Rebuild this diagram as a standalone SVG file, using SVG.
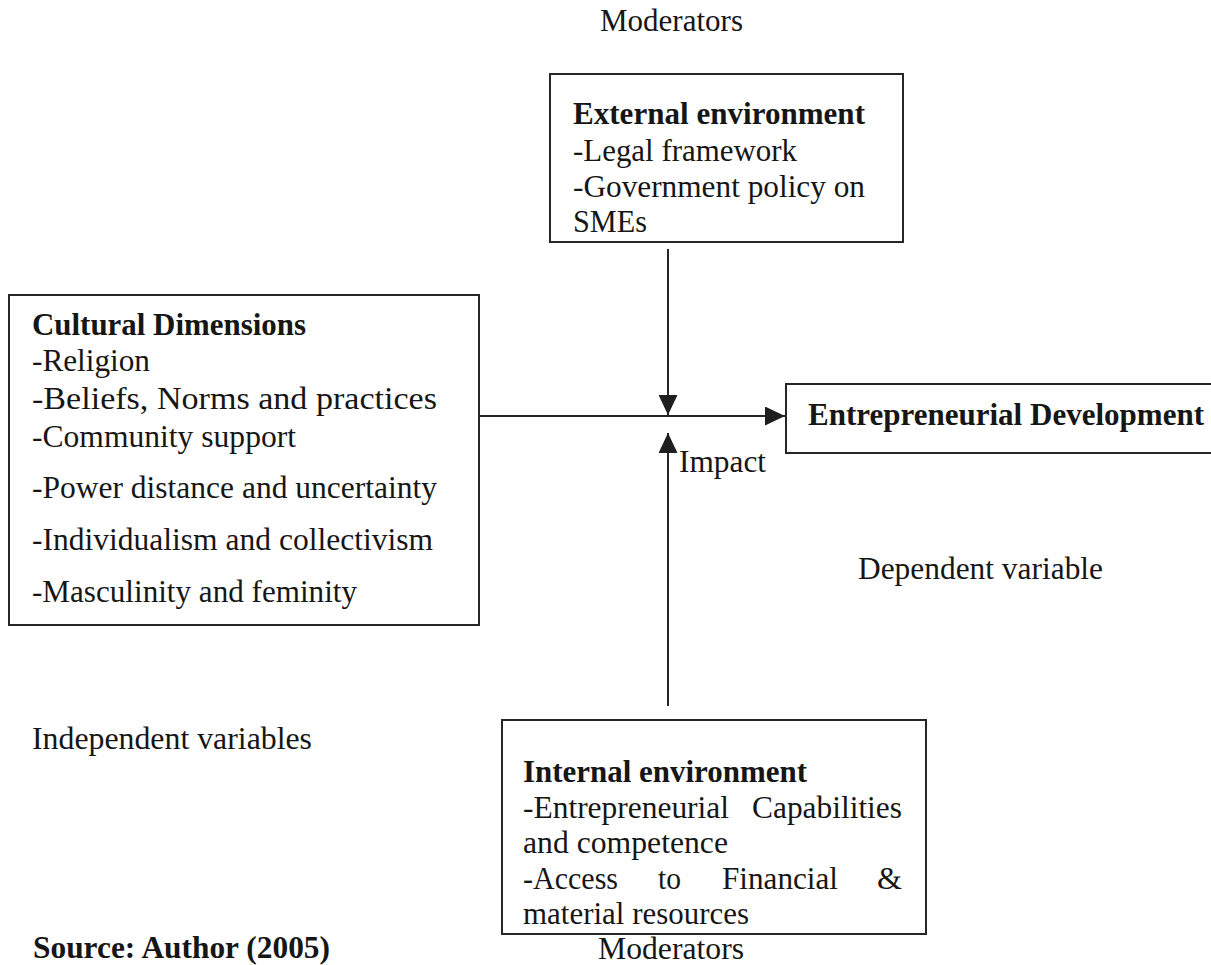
<svg xmlns="http://www.w3.org/2000/svg" width="1211" height="965" viewBox="0 0 1211 965">
<defs>
<style>
text{font-family:"Liberation Serif","Times New Roman",serif;font-size:31px;fill:#161616}
.b{font-weight:bold}
.box{fill:none;stroke:#262626;stroke-width:2}
.con{fill:none;stroke:#262626;stroke-width:2}
</style>
<marker id="ah" viewBox="0 0 20 19" refX="20" refY="9.5" markerWidth="20" markerHeight="19" markerUnits="userSpaceOnUse" orient="auto">
<path d="M0,0 L20,9.5 L0,19 z" fill="#1e1e1e"/>
</marker>
</defs>
<rect width="1211" height="965" fill="#ffffff"/>

<text x="600" y="31" textLength="143" lengthAdjust="spacingAndGlyphs">Moderators</text>

<g id="external">
<rect class="box" x="550" y="74" width="353" height="168"/>
<text class="b" x="573" y="124" textLength="292" lengthAdjust="spacingAndGlyphs">External environment</text>
<text x="573" y="161" textLength="224" lengthAdjust="spacingAndGlyphs">-Legal framework</text>
<text x="573" y="197" textLength="292" lengthAdjust="spacingAndGlyphs">-Government policy on</text>
<text x="573" y="232" textLength="74" lengthAdjust="spacingAndGlyphs">SMEs</text>
</g>

<g id="cultural">
<rect class="box" x="9" y="295" width="470" height="330"/>
<text class="b" x="32" y="335" textLength="274" lengthAdjust="spacingAndGlyphs">Cultural Dimensions</text>
<text x="32" y="371" textLength="118" lengthAdjust="spacingAndGlyphs">-Religion</text>
<text x="32" y="409" textLength="405" lengthAdjust="spacingAndGlyphs">-Beliefs, Norms and practices</text>
<text x="32" y="447" textLength="264" lengthAdjust="spacingAndGlyphs">-Community support</text>
<text x="32" y="498" textLength="405" lengthAdjust="spacingAndGlyphs">-Power distance and uncertainty</text>
<text x="32" y="550" textLength="401" lengthAdjust="spacingAndGlyphs">-Individualism and collectivism</text>
<text x="32" y="602" textLength="325" lengthAdjust="spacingAndGlyphs">-Masculinity and feminity</text>
</g>

<g id="entrepreneurial">
<rect class="box" x="786" y="384" width="440" height="69"/>
<text class="b" x="808" y="425" textLength="396" lengthAdjust="spacingAndGlyphs">Entrepreneurial Development</text>
</g>

<g id="internal">
<rect class="box" x="502" y="720" width="424" height="214"/>
<text class="b" x="523" y="782" textLength="284" lengthAdjust="spacingAndGlyphs">Internal environment</text>
<text x="523" y="818" textLength="206" lengthAdjust="spacingAndGlyphs">-Entrepreneurial</text>
<text x="902" y="818" text-anchor="end" textLength="150" lengthAdjust="spacingAndGlyphs">Capabilities</text>
<text x="523" y="853" textLength="205" lengthAdjust="spacingAndGlyphs">and competence</text>
<text x="523" y="889" textLength="95" lengthAdjust="spacingAndGlyphs">-Access</text>
<text x="658" y="889" textLength="23" lengthAdjust="spacingAndGlyphs">to</text>
<text x="722" y="889" textLength="116" lengthAdjust="spacingAndGlyphs">Financial</text>
<text x="877" y="889" textLength="25" lengthAdjust="spacingAndGlyphs">&amp;</text>
<text x="523" y="924" textLength="226" lengthAdjust="spacingAndGlyphs">material resources</text>
</g>

<g id="labels">
<text x="679" y="472" textLength="87" lengthAdjust="spacingAndGlyphs">Impact</text>
<text x="858" y="579" textLength="245" lengthAdjust="spacingAndGlyphs">Dependent variable</text>
<text x="32" y="749" textLength="280" lengthAdjust="spacingAndGlyphs">Independent variables</text>
<text class="b" x="33" y="958" textLength="297" lengthAdjust="spacingAndGlyphs">Source: Author (2005)</text>
<text x="598" y="959" textLength="146" lengthAdjust="spacingAndGlyphs">Moderators</text>
</g>

<g id="connectors">
<line class="con" x1="479" y1="416" x2="785" y2="416" marker-end="url(#ah)"/>
<line class="con" x1="668" y1="249" x2="668" y2="415" marker-end="url(#ah)"/>
<line class="con" x1="668" y1="706" x2="668" y2="433" marker-end="url(#ah)"/>
</g>
</svg>
